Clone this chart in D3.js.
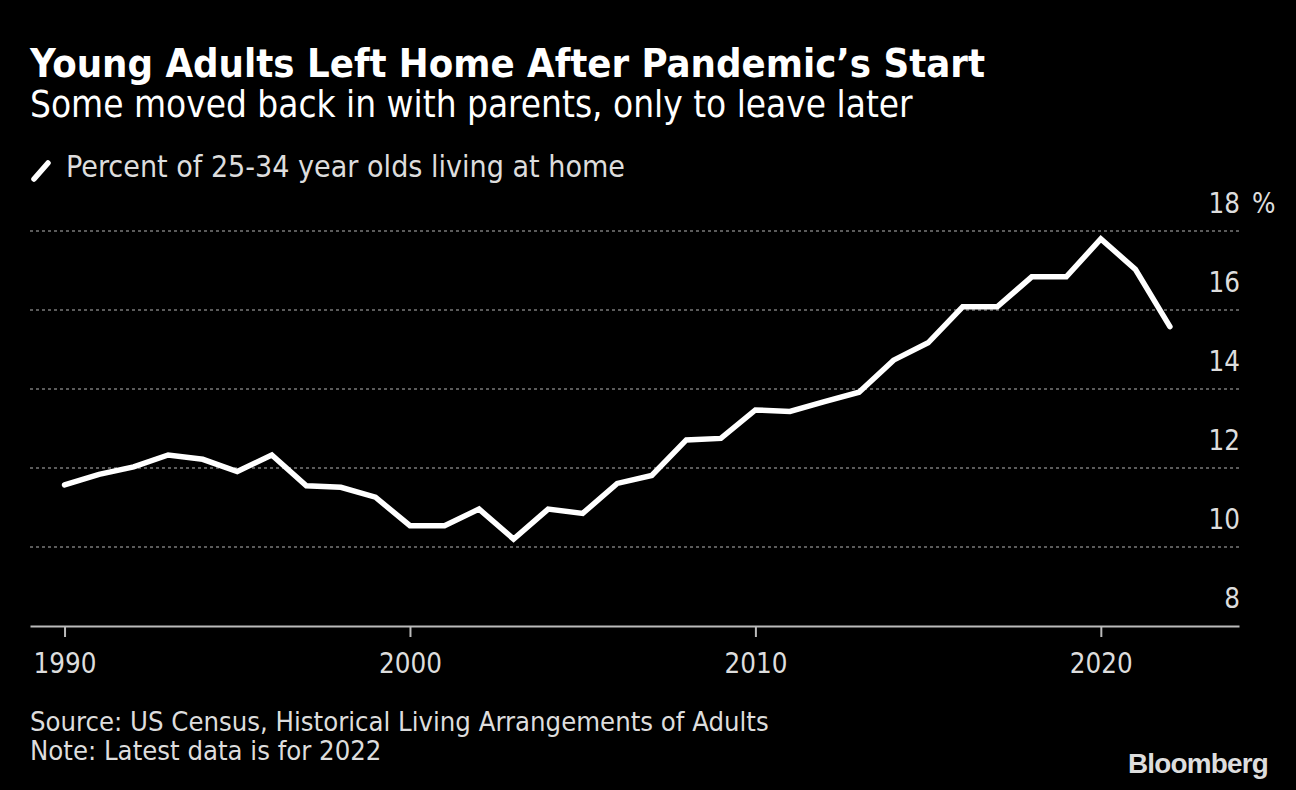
<!DOCTYPE html>
<html><head><meta charset="utf-8">
<script src="https://cdn.jsdelivr.net/npm/d3@7"></script>
<style>
html,body{margin:0;padding:0;background:#000;}
svg{display:block;}
text{font-family:"DejaVu Sans Condensed","DejaVu Sans",sans-serif;font-stretch:condensed;}
</style></head>
<body>
<svg id="chart" width="1296" height="790"></svg>
<script>
const years = [1990,1991,1992,1993,1994,1995,1996,1997,1998,1999,2000,2001,2002,2003,2004,2005,2006,2007,2008,2009,2010,2011,2012,2013,2014,2015,2016,2017,2018,2019,2020,2021,2022];
const pctAtHome = [11.57,11.84,12.03,12.33,12.22,11.91,12.33,11.55,11.51,11.26,10.54,10.54,10.96,10.20,10.96,10.85,11.61,11.81,12.71,12.75,13.47,13.43,13.68,13.92,14.73,15.17,16.08,16.08,16.84,16.84,17.80,17.03,15.58];
const yTicks = [8,10,12,14,16,18];
const xTicks = [1990,2000,2010,2020];
const title = "Young Adults Left Home After Pandemic\u2019s Start";
const subtitle = "Some moved back in with parents, only to leave later";
const legendLabel = "Percent of 25-34 year olds living at home";
const sourceText = "Source: US Census, Historical Living Arrangements of Adults";
const noteText = "Note: Latest data is for 2022";

const svg = d3.select("#chart");
svg.append("rect").attr("width",1296).attr("height",790).attr("fill","#000");

const x = d3.scaleLinear().domain([1989,2024]).range([30,1239]);
const y = d3.scaleLinear().domain([8,18]).range([626,231]);

function fit(sel, w){
  let fs = parseFloat(sel.attr("font-size"));
  const cur = sel.node().getComputedTextLength();
  sel.attr("font-size", (fs*w/cur).toFixed(2));
}

// Title block
fit(svg.append("text").attr("x",30).attr("y",77).attr("font-size",38).attr("font-weight","bold").attr("fill","#fff").text(title), 955);
fit(svg.append("text").attr("x",30).attr("y",117).attr("font-size",33).attr("fill","#fff").text(subtitle), 883);

// Legend
svg.append("line").attr("x1",34).attr("y1",179).attr("x2",48).attr("y2",163)
  .attr("stroke","#fff").attr("stroke-width",5.5).attr("stroke-linecap","round");
fit(svg.append("text").attr("x",66).attr("y",177).attr("font-size",27).attr("fill","#ddd").text(legendLabel), 559);

// Gridlines
svg.append("g").selectAll("line").data(yTicks.filter(d=>d>8)).join("line")
  .attr("x1",30).attr("x2",1239).attr("y1",d=>y(d)).attr("y2",d=>y(d))
  .attr("stroke","#7a7a7a").attr("stroke-width",1.5).attr("stroke-dasharray","3,3");

// Y labels (right, above gridlines)
svg.append("g").selectAll("text").data(yTicks).join("text")
  .attr("x",1240).attr("y",d=>y(d)-18).attr("text-anchor","end")
  .attr("font-size",27.5).attr("fill","#ddd").text(d=>d);
svg.append("text").attr("x",1252).attr("y",y(18)-18).attr("font-size",27.5).attr("fill","#ddd").text("%");

// X axis
const xAxis = d3.axisBottom(x).tickValues(xTicks).tickFormat(d3.format("d")).tickSize(11).tickSizeOuter(0).tickPadding(16);
const gx = svg.append("g").attr("transform",`translate(0,${y(8)})`).call(xAxis);
gx.select(".domain").attr("stroke","#bbb").attr("stroke-width",2);
gx.selectAll(".tick line").attr("stroke","#bbb").attr("stroke-width",2);
gx.selectAll(".tick text").attr("fill","#ddd").attr("font-size",27.5).attr("font-family",null);

// Line
const line = d3.line().x((d,i)=>x(years[i])).y(d=>y(d));
svg.append("path").datum(pctAtHome).attr("d",line).attr("fill","none")
  .attr("stroke","#fff").attr("stroke-width",5.5).attr("stroke-linejoin","miter").attr("stroke-linecap","round");

// Footer
const src = svg.append("text").attr("x",30).attr("y",731).attr("font-size",24).attr("fill","#ddd").text(sourceText);
fit(src, 739);
svg.append("text").attr("x",30).attr("y",760).attr("font-size",src.attr("font-size")).attr("fill","#ddd").text(noteText);
fit(svg.append("text").attr("x",1128).attr("y",773).attr("font-size",28).attr("font-weight","bold").attr("letter-spacing",-0.8).attr("fill","#ddd").style("font-family","'Liberation Sans',Arial,sans-serif").style("font-stretch","normal").text("Bloomberg"), 140);
</script>
</body></html>
